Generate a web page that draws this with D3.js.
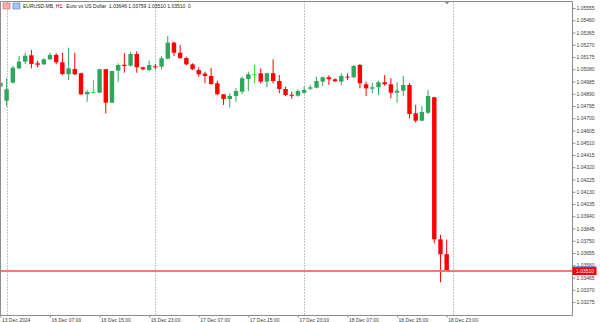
<!DOCTYPE html>
<html>
<head>
<meta charset="utf-8">
<script src="https://cdn.jsdelivr.net/npm/d3@7"></script>
<style>
  body { margin: 0; background: #fff; }
  svg { display: block; }
  text { font-family: "Liberation Sans", Arial, sans-serif; }
</style>
</head>
<body>
<svg id="chart" width="600" height="322"></svg>
<script>
// EURUSD H1 bars, 13 Dec 23:00 .. 18 Dec 23:00
var opens = [1.04945, 1.04836, 1.04976, 1.05087, 1.05139, 1.05188, 1.05126, 1.05118, 1.05157, 1.05191,
  1.05134, 1.05041, 1.05082, 1.05049, 1.04886, 1.04904, 1.04898, 1.05080, 1.04821, 1.05069,
  1.05115, 1.05108, 1.05198, 1.05095, 1.05074, 1.05103, 1.05100, 1.05162, 1.05286, 1.05208,
  1.05167, 1.05118, 1.05074, 1.05046, 1.05028, 1.04971, 1.04886, 1.04849, 1.04873, 1.04906,
  1.05004, 1.05041, 1.05049, 1.04984, 1.05049, 1.04989, 1.04927, 1.04882, 1.04875, 1.04898,
  1.04929, 1.04937, 1.04984, 1.05018, 1.05002, 1.04984, 1.05023, 1.05018, 1.05113, 1.04963,
  1.04929, 1.04940, 1.04979, 1.04963, 1.04898, 1.04914, 1.04958, 1.04738, 1.04681, 1.04743,
  1.04863, 1.03761, 1.03646];
var highs = [1.04989, 1.05010, 1.05105, 1.05183, 1.05208, 1.05229, 1.05146, 1.05165, 1.05208, 1.05204,
  1.05208, 1.05247, 1.05208, 1.05053, 1.04919, 1.04997, 1.05082, 1.05082, 1.05068, 1.05126,
  1.05204, 1.05214, 1.05219, 1.05100, 1.05146, 1.05121, 1.05183, 1.05338, 1.05294, 1.05268,
  1.05177, 1.05126, 1.05095, 1.05061, 1.05090, 1.04991, 1.04887, 1.04894, 1.04932, 1.05022,
  1.05061, 1.05113, 1.05087, 1.05053, 1.05157, 1.05035, 1.04945, 1.04906, 1.04923, 1.04945,
  1.04958, 1.05022, 1.05022, 1.05035, 1.05010, 1.05049, 1.05049, 1.05113, 1.05121, 1.04984,
  1.04976, 1.04991, 1.05035, 1.05010, 1.04979, 1.05028, 1.04976, 1.04803, 1.04795, 1.04919,
  1.04866, 1.03795, 1.03759];
var lows = [1.04935, 1.04790, 1.04970, 1.05080, 1.05121, 1.05087, 1.05095, 1.05113, 1.05152, 1.05118,
  1.05035, 1.04997, 1.05035, 1.04880, 1.04828, 1.04894, 1.04896, 1.04738, 1.04819, 1.04984,
  1.05053, 1.05100, 1.05053, 1.05072, 1.05064, 1.05080, 1.05080, 1.05157, 1.05183, 1.05162,
  1.05111, 1.05074, 1.05022, 1.04971, 1.04958, 1.04878, 1.04803, 1.04785, 1.04828, 1.04888,
  1.04911, 1.04971, 1.04971, 1.04940, 1.04971, 1.04894, 1.04873, 1.04851, 1.04867, 1.04888,
  1.04919, 1.04932, 1.04950, 1.04958, 1.04981, 1.04958, 1.04997, 1.05010, 1.04932, 1.04873,
  1.04894, 1.04880, 1.04952, 1.04855, 1.04821, 1.04873, 1.04700, 1.04666, 1.04679, 1.04733,
  1.03730, 1.03428, 1.03510];
var closes = [1.04976, 1.04925, 1.05092, 1.05139, 1.05185, 1.05121, 1.05115, 1.05157, 1.05191, 1.05134,
  1.05043, 1.05087, 1.05041, 1.04886, 1.04904, 1.04904, 1.05080, 1.04821, 1.05066, 1.05113,
  1.05105, 1.05198, 1.05095, 1.05080, 1.05113, 1.05095, 1.05165, 1.05286, 1.05208, 1.05167,
  1.05118, 1.05080, 1.05041, 1.05028, 1.04966, 1.04886, 1.04849, 1.04873, 1.04911, 1.05010,
  1.05041, 1.05041, 1.04984, 1.05049, 1.04989, 1.04927, 1.04880, 1.04879, 1.04911, 1.04919,
  1.04940, 1.04989, 1.05018, 1.05002, 1.04987, 1.05028, 1.05021, 1.05105, 1.04971, 1.04932,
  1.04940, 1.04979, 1.04963, 1.04898, 1.04914, 1.04958, 1.04733, 1.04681, 1.04749, 1.04873,
  1.03761, 1.03645, 1.03510];

var timeTickBars = [0, 8, 16, 24, 32, 40, 48, 56, 64, 72];
var timeTickLabels = ["13 Dec 2024", "16 Dec 07:00", "16 Dec 15:00", "16 Dec 23:00", "17 Dec 07:00",
  "17 Dec 15:00", "17 Dec 23:00", "18 Dec 07:00", "18 Dec 15:00", "18 Dec 23:00"];
var daySeparatorBars = [1, 25, 49, 73];
var priceTicks = [1.05555, 1.05460, 1.05365, 1.05270, 1.05175, 1.05080, 1.04985, 1.04890, 1.04795,
  1.04700, 1.04605, 1.04510, 1.04415, 1.04320, 1.04225, 1.04130, 1.04035, 1.03940, 1.03845,
  1.03750, 1.03655, 1.03560, 1.03465, 1.03370, 1.03275];
var titleText = "EURUSD.MB, H1:  Euro vs US Dollar  1.03646 1.03759 1.03510 1.03510  0";
var lastPrice = 1.03510;

var plotLeft = 0.5, plotTop = 1.5, plotRight = 572.5, plotBottom = 315.5;
var bullColor = "#2fa55e", bearColor = "#ff0000", dojiColor = "#2ee02e";

var svg = d3.select("#chart");

var x = d3.scaleLinear().domain([0, 73]).range([0.41, 452.87]);
var y = d3.scaleLinear().domain([1.03275, 1.05555]).range([302, 8]);

svg.append("clipPath").attr("id", "plotclip")
  .append("rect").attr("x", plotLeft).attr("y", plotTop)
  .attr("width", plotRight - plotLeft).attr("height", plotBottom - plotTop);

var plot = svg.append("g").attr("clip-path", "url(#plotclip)");

// day separators
plot.selectAll("line.sep").data(daySeparatorBars).enter().append("line")
  .attr("class", "sep")
  .attr("x1", function(d){ return Math.round(x(d)) + 0.5; })
  .attr("x2", function(d){ return Math.round(x(d)) + 0.5; })
  .attr("y1", plotTop).attr("y2", plotBottom)
  .attr("stroke", "#8a8a8a").attr("stroke-width", 1)
  .attr("stroke-dasharray", "1,2");

var bars = d3.range(opens.length).map(function(i){
  return {i: i, o: opens[i], h: highs[i], l: lows[i], c: closes[i]};
});
function barColor(d){
  if (d.c === d.o) return dojiColor;
  return d.c > d.o ? bullColor : bearColor;
}

// wicks
plot.selectAll("line.wick").data(bars).enter().append("line")
  .attr("class", "wick")
  .attr("x1", function(d){ return x(d.i); })
  .attr("x2", function(d){ return x(d.i); })
  .attr("y1", function(d){ return y(d.h); })
  .attr("y2", function(d){ return y(d.l); })
  .attr("stroke", barColor).attr("stroke-width", 1);

// bodies
plot.selectAll("rect.body").data(bars).enter().append("rect")
  .attr("class", "body")
  .attr("x", function(d){ return x(d.i) - 2.2; })
  .attr("width", 4.4)
  .attr("y", function(d){ return y(Math.max(d.o, d.c)); })
  .attr("height", function(d){ return Math.max(1, Math.abs(y(d.o) - y(d.c))); })
  .attr("fill", barColor);

// bid line: a 2px band on even rows so it keeps its red colour
var ly = Math.floor(y(lastPrice) / 2) * 2;
plot.append("rect")
  .attr("x", plotLeft).attr("width", plotRight - plotLeft)
  .attr("y", ly).attr("height", 2)
  .attr("fill", "#ff7878");

// frame
svg.append("path")
  .attr("d", "M" + plotLeft + "," + plotBottom + "V" + plotTop + "H" + plotRight + "V" + plotBottom + "H" + plotLeft)
  .attr("fill", "none").attr("stroke", "#8c8c8c").attr("stroke-width", 1);

// chart shift marker
svg.append("path")
  .attr("d", "M444.5,1.5L449.5,1.5L447,4.5Z")
  .attr("fill", "#7f8fa6");

// price axis
var yAxis = d3.axisRight(y).tickValues(priceTicks).tickSize(3).tickPadding(1)
  .tickFormat(d3.format(".5f"));
var gy = svg.append("g").attr("transform", "translate(" + plotRight + ",0)").call(yAxis);
gy.select(".domain").remove();
gy.selectAll(".tick line").attr("stroke", "#8c8c8c");
gy.selectAll(".tick text").attr("fill", "#3a3a3a").style("font-size", "5px")
  .style("font-family", "'Liberation Sans', Arial, sans-serif");

// current price label
svg.append("rect").attr("x", plotRight).attr("y", ly - 3).attr("width", 24).attr("height", 8)
  .attr("fill", "#ff0000");
svg.append("line").attr("x1", plotRight).attr("x2", plotRight + 24)
  .attr("y1", ly - 3).attr("y2", ly - 3).attr("stroke", "#5060e0").attr("stroke-width", 1);
svg.append("text").attr("x", plotRight + 3.5).attr("y", ly + 1).attr("dy", "0.35em")
  .attr("fill", "#fff").style("font-size", "5px").text(d3.format(".5f")(lastPrice));

// time axis
var xAxis = d3.axisBottom(x).tickValues(timeTickBars).tickSize(2).tickPadding(1)
  .tickFormat(function(d, i){ return timeTickLabels[i]; });
var gx = svg.append("g").attr("transform", "translate(0," + plotBottom + ")").call(xAxis);
gx.select(".domain").remove();
gx.selectAll(".tick line").attr("stroke", "#8c8c8c");
gx.selectAll(".tick text").attr("text-anchor", "start").attr("dx", "0.2em")
  .attr("fill", "#3a3a3a").style("font-size", "5px")
  .style("font-family", "'Liberation Sans', Arial, sans-serif");

// title with the two little icons
svg.append("rect").attr("x", 3).attr("y", 3).attr("width", 7).attr("height", 6)
  .attr("fill", "#f4b0b0").attr("stroke", "#d06060").attr("stroke-width", 0.6);
svg.append("rect").attr("x", 13).attr("y", 3).attr("width", 7).attr("height", 6)
  .attr("fill", "#a8c4f0").attr("stroke", "#4a78c8").attr("stroke-width", 0.6);
svg.append("text").attr("x", 23).attr("y", 8).attr("fill", "#222")
  .style("font-size", "5px").style("white-space", "pre").text(titleText);
</script>
</body>
</html>
